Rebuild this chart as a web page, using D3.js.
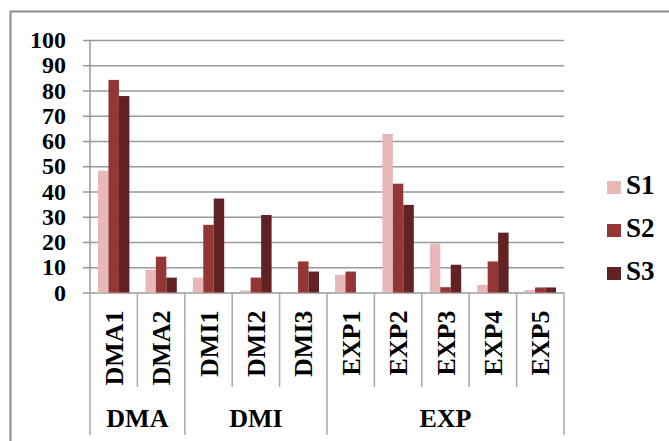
<!DOCTYPE html>
<html lang="en">
<head>
  <meta charset="UTF-8">
  <title>S1 S2 S3 by category</title>
  <style>
    body { margin: 0; background: #fff; }
    svg { display: block; }
    text { font-family: "Liberation Serif", "Times New Roman", serif; font-weight: bold; fill: #000; }
  </style>
  <script src="https://d3js.org/d3.v7.min.js"></script>
</head>
<body>
<script>
  var categories = ["DMA1", "DMA2", "DMI1", "DMI2", "DMI3", "EXP1", "EXP2", "EXP3", "EXP4", "EXP5"];
  var groupNames = ["DMA", "DMI", "EXP"];
  var groupSizes = [2, 3, 5];
  var seriesNames = ["S1", "S2", "S3"];
  var s1 = [48.2, 9.0, 5.9, 0.8, 0, 7.0, 62.8, 19.3, 3.0, 1.0];
  var s2 = [84.2, 14.2, 26.8, 5.9, 12.3, 8.3, 43.1, 2.1, 12.3, 2.0];
  var s3 = [77.8, 5.9, 37.2, 30.7, 8.3, 0, 34.7, 11.0, 23.7, 2.0];
  var yTicks = [0, 10, 20, 30, 40, 50, 60, 70, 80, 90, 100];

  var colors = ["#e8b7b7", "#943536", "#622223"];
  var values = [s1, s2, s3];

  var W = 669, H = 441;
  var plotL = 90, plotR = 564, plotT = 40, plotB = 292.5;

  var svg = d3.select("body").append("svg")
    .attr("width", W)
    .attr("height", H);

  // outer frame (right and bottom edges run off the picture)
  svg.append("path")
    .attr("d", "M10.5,441 V11.5 H669")
    .attr("fill", "none")
    .attr("stroke", "#8c8c8c")
    .attr("stroke-width", 2);

  var y = d3.scaleLinear().domain([0, 100]).range([plotB, plotT]);
  var x = d3.scaleBand().domain(categories).range([plotL, plotR]);
  var bw = x.bandwidth();
  var xs = d3.scaleBand().domain(seriesNames).range([8, bw - 8]);

  // gridlines + y labels
  var yAxis = d3.axisLeft(y).tickValues(yTicks).tickSize(plotR - 83).tickPadding(17);
  var gy = svg.append("g")
    .attr("transform", "translate(" + plotR + ",0)")
    .call(yAxis);
  gy.select(".domain").remove();
  gy.selectAll("line").attr("stroke", "#999").attr("stroke-width", 1.5);
  gy.selectAll("text").style("font-size", "24px").attr("font-family", null);

  // y axis line
  svg.append("line")
    .attr("x1", plotL).attr("x2", plotL)
    .attr("y1", plotT).attr("y2", plotB)
    .attr("stroke", "#999").attr("stroke-width", 1.5);

  // bars
  seriesNames.forEach(function (s, i) {
    svg.append("g").selectAll("rect")
      .data(values[i])
      .join("rect")
      .attr("x", function (d, j) { return x(categories[j]) + xs(s); })
      .attr("y", function (d) { return y(d); })
      .attr("width", xs.bandwidth())
      .attr("height", function (d) { return plotB - y(d); })
      .attr("fill", colors[i]);
  });

  // category separators
  var starts = [];
  var acc = 0;
  groupSizes.forEach(function (n) { starts.push(acc); acc += n; });
  var boundaries = categories.map(function (c, i) { return i; }).concat([categories.length]);
  svg.append("g").selectAll("line")
    .data(boundaries)
    .join("line")
    .attr("x1", function (i) { return i < categories.length ? x(categories[i]) : plotR; })
    .attr("x2", function (i) { return i < categories.length ? x(categories[i]) : plotR; })
    .attr("y1", plotB)
    .attr("y2", function (i) { return (starts.indexOf(i) >= 0 || i === categories.length) ? 435 : 387; })
    .attr("stroke", "#aaa").attr("stroke-width", 1.5);

  // category labels
  var gx = svg.append("g")
    .attr("transform", "translate(0," + plotB + ")")
    .call(d3.axisBottom(x).tickSize(0));
  gx.select(".domain").remove();
  gx.selectAll("text")
    .attr("font-family", null)
    .style("font-size", "26px")
    .attr("text-anchor", "end")
    .attr("transform", "rotate(-90)")
    .attr("x", -18)
    .attr("y", 0)
    .attr("dy", "0.35em");

  // group labels
  svg.append("g").selectAll("text")
    .data(groupNames)
    .join("text")
    .attr("x", function (g, i) {
      var a = x(categories[starts[i]]);
      return a + groupSizes[i] * bw / 2;
    })
    .attr("y", 427)
    .attr("text-anchor", "middle")
    .style("font-size", "26px")
    .text(function (g) { return g; });

  // legend
  var legend = svg.append("g").selectAll("g")
    .data(seriesNames)
    .join("g")
    .attr("transform", function (d, i) { return "translate(607," + (181 + i * 43) + ")"; });
  legend.append("rect")
    .attr("width", 14).attr("height", 13)
    .attr("fill", function (d, i) { return colors[i]; });
  legend.append("text")
    .attr("x", 19).attr("y", 13)
    .style("font-size", "27px")
    .text(function (d) { return d; });
</script>
</body>
</html>
